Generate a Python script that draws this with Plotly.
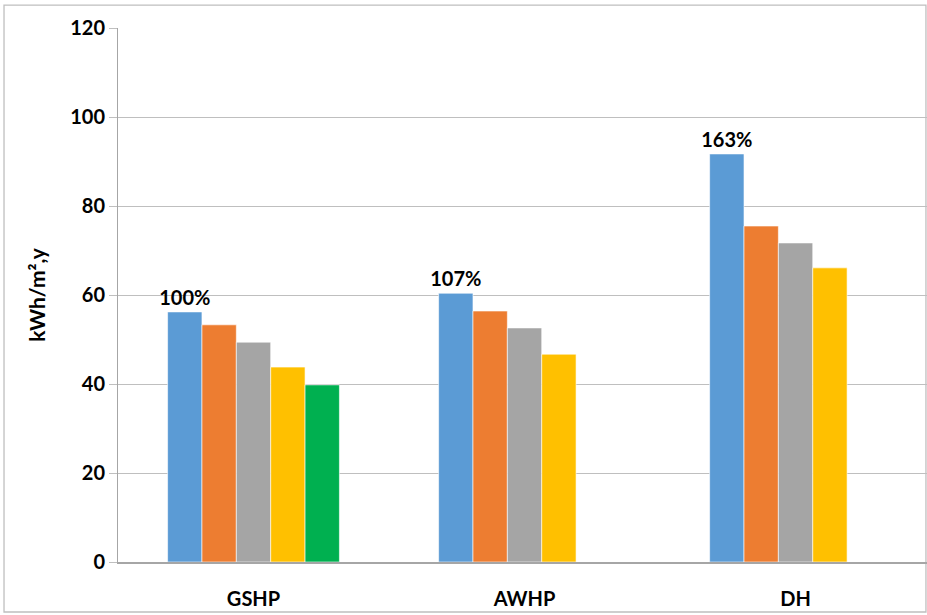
import plotly.graph_objects as go

categories = ["GSHP", "AWHP", "DH"]
series_names = ["Series 1", "Series 2", "Series 3", "Series 4", "Series 5"]
series_values = [
    [56.2, 60.4, 91.7],
    [53.3, 56.4, 75.5],
    [49.4, 52.6, 71.7],
    [43.8, 46.7, 66.1],
    [39.8, None, None],
]
series_colors = ["#5B9BD5", "#ED7D31", "#A5A5A5", "#FFC000", "#00B050"]
first_series_labels = ["100%", "107%", "163%"]
y_ticks = [0, 20, 40, 60, 80, 100, 120]

FONT = "Lato"

fig = go.Figure()
for i, (name, vals, col) in enumerate(zip(series_names, series_values, series_colors)):
    kw = {}
    if i == 0:
        kw = dict(text=first_series_labels, textposition="outside",
                  constraintext="none",
                  textfont=dict(family=FONT, size=20, color="black", weight="bold"),
                  cliponaxis=False)
    fig.add_trace(go.Bar(x=categories, y=vals, name=name,
                         marker=dict(color=col, line=dict(color="white", width=0.6)),
                         **kw))

fig.update_layout(
    width=927, height=615,
    barmode="group", bargap=0.366, bargroupgap=0,
    showlegend=False,
    plot_bgcolor="white", paper_bgcolor="white",
    margin=dict(l=118, r=0, t=28, b=53),
    font=dict(family=FONT, color="black"),
)
fig.update_yaxes(
    range=[0, 120], tickvals=y_ticks,
    showgrid=True, gridcolor="#BFBFBF", gridwidth=1.3,
    showline=True, linecolor="#A6A6A6", linewidth=1,
    ticks="outside", ticklen=8, tickcolor="#BFBFBF",
    tickfont=dict(family=FONT, size=20, color="black", weight="bold"),
    title=dict(text="kWh/m²,y", font=dict(family=FONT, size=21, color="black", weight="bold"), standoff=18),
    zeroline=False,
)
fig.update_xaxes(
    range=[-0.5, 2.485],
    showline=True, linecolor="#A6A6A6", linewidth=1.5,
    ticks="", ticklabelstandoff=18,
    tickfont=dict(family=FONT, size=20, color="black", weight="bold"),
)
fig.add_shape(type="rect", xref="paper", yref="paper",
              x0=-0.1409, x1=0.9987, y0=-0.0936, y1=1.043,
              line=dict(color="#BFBFBF", width=1.3), fillcolor="rgba(0,0,0,0)", layer="below")

fig.write_html("out.html")
